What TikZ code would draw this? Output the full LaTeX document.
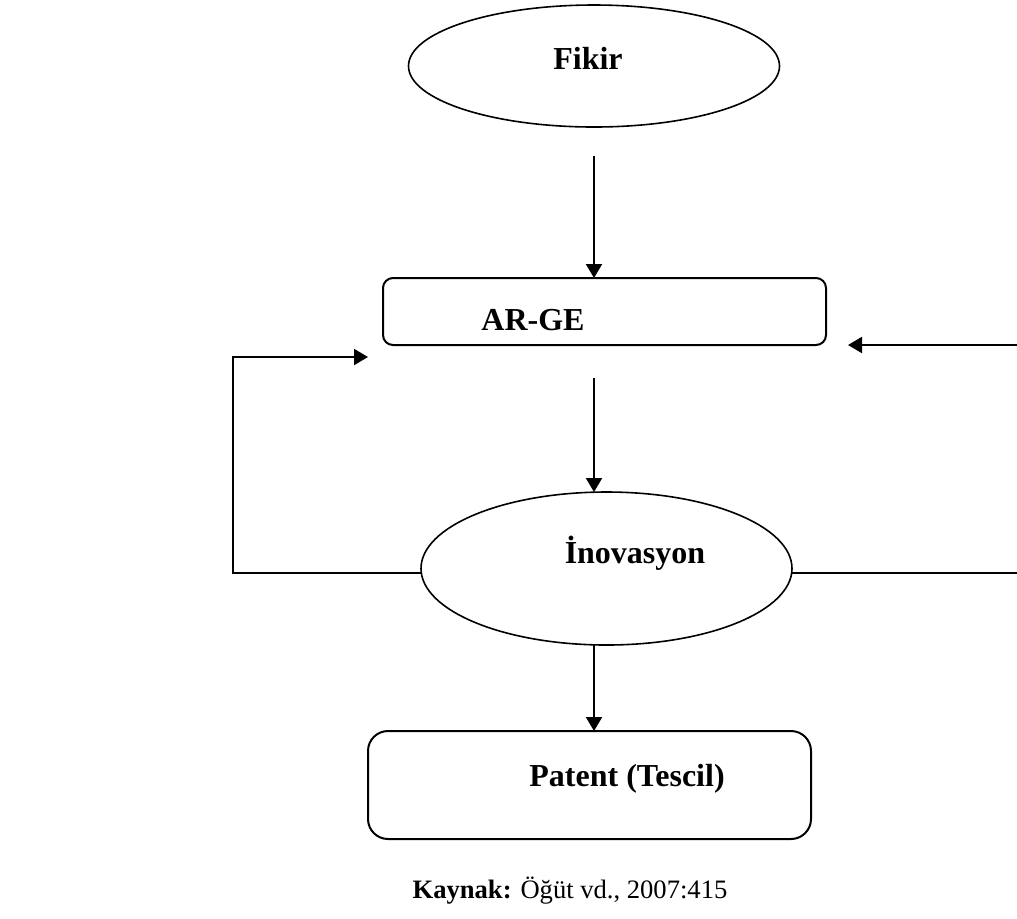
\documentclass[tikz,border=0pt]{standalone}
\usepackage{fontspec}
\setmainfont{Liberation Serif}
\usepackage{tikz}
\usetikzlibrary{shapes.geometric,arrows.meta}

\begin{document}
\begin{tikzpicture}[x=0.5pt,y=-0.5pt,
  oval/.style={draw=black,ellipse,line width=0.8pt,inner sep=0pt,outer sep=0pt},
  kutu/.style={draw=black,rectangle,line width=1pt,inner sep=0pt,outer sep=0pt},
  yazi/.style={anchor=base,inner sep=0pt,font=\fontsize{16}{19}\selectfont\bfseries},
  arr/.style={line width=1pt,-{Triangle[length=7pt,width=8pt]}}]
\useasboundingbox (0,0) rectangle (1017,918);
\node[oval,minimum width=185.5pt,minimum height=61pt] (fikir) at (594,66) {};
\node[kutu,rounded corners=5pt,minimum width=221.5pt,minimum height=33.5pt] (arge) at (604.5,311.5) {};
\node[oval,minimum width=185.5pt,minimum height=76.5pt] (inov) at (606.5,568.5) {};
\node[kutu,rounded corners=10pt,minimum width=221.5pt,minimum height=54pt] (patent) at (589.5,785) {};
\node[yazi] (fikirtxt) at (588,69) {Fikir};
\node[yazi] (argetxt) at (533,330) {AR-GE};
\node[yazi] (inovtxt) at (635,563) {İnovasyon};
\node[yazi] (patenttxt) at (627,786) {Patent (Tescil)};
\node[anchor=base,inner sep=0pt,font=\fontsize{13.3}{16}\selectfont] (kaynak) at (570,898) {\textbf{Kaynak:} Öğüt vd., 2007:415};
\coordinate (lb) at (233,573);
\coordinate (lt) at (233,357);
\coordinate (ltip) at (368,357);
\coordinate (rb) at (1017,573);
\coordinate (rt) at (1017,345);
\coordinate (rtip) at (848,345);
\draw [arr] (fikir.south) ++(0,29) -- (fikir.south |- arge.north);
\draw [arr] (fikir.south |- arge.south) ++(0,33) -- (fikir.south |- inov.north);
\draw [arr] (fikir.south |- inov.south) -- (fikir.south |- patent.north);
\draw [arr] (inov.west |- lb) -- (lb) -- (lt) -- (ltip);
\draw [line width=1pt] (inov.east |- rb) -- (rb);
\draw [arr] (rt) -- (rtip);
\end{tikzpicture}
\end{document}
